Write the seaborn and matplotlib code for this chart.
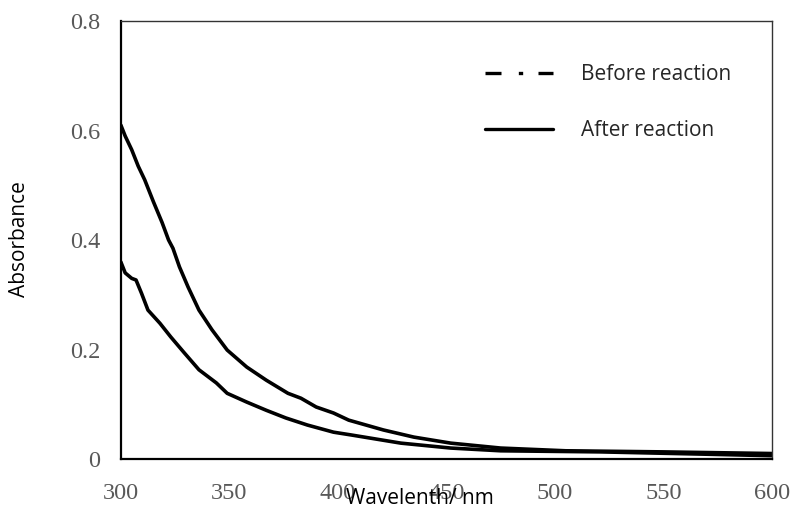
import numpy as np
import pandas as pd
import matplotlib
matplotlib.use("Agg")
import matplotlib.pyplot as plt
from matplotlib.lines import Line2D
import seaborn as sns

# UV-Vis absorption spectra
wl_before = [300, 302, 305, 308, 311, 315, 319, 322, 324, 327, 331, 336, 342, 349,
             358, 367, 377, 383, 390, 398, 405, 421, 435, 452, 475, 505, 550, 600]
abs_before = [0.61, 0.59, 0.565, 0.535, 0.51, 0.47, 0.432, 0.40, 0.385, 0.351, 0.314,
              0.272, 0.236, 0.199, 0.168, 0.144, 0.12, 0.111, 0.095, 0.084, 0.071,
              0.053, 0.04, 0.029, 0.02, 0.015, 0.013, 0.01]

wl_after = [300, 302, 305, 307, 309.5, 312.5, 318, 323, 329, 336, 344, 349, 358, 367,
            376, 386, 398, 406, 429, 452, 475, 521, 567, 600]
abs_after = [0.36, 0.34, 0.33, 0.327, 0.303, 0.272, 0.248, 0.223, 0.195, 0.163, 0.139,
             0.12, 0.104, 0.089, 0.075, 0.062, 0.049, 0.044, 0.029, 0.02, 0.015, 0.013,
             0.009, 0.006]

series_names = ["Before reaction", "After reaction"]
x_ticks = [300, 350, 400, 450, 500, 550, 600]
y_ticks = [0, 0.2, 0.4, 0.6, 0.8]
y_tick_labels = ["0", "0.2", "0.4", "0.6", "0.8"]

df = pd.concat([
    pd.DataFrame({"wl": wl_before, "A": abs_before, "sample": series_names[0]}),
    pd.DataFrame({"wl": wl_after, "A": abs_after, "sample": series_names[1]}),
])

sns.set_style("white")
plt.rcParams["font.family"] = ["Open Sans", "DejaVu Sans"]

fig = plt.figure(figsize=(7.95, 5.14), dpi=100)
ax = fig.add_axes([0.152, 0.107, 0.819, 0.852])

sns.lineplot(data=df, x="wl", y="A", hue="sample", palette=["black", "black"],
             linewidth=2.6, legend=False, ax=ax, sort=True)

ax.set_xlim(300, 600)
ax.set_ylim(0, 0.8)
ax.set_xticks(x_ticks)
ax.set_yticks(y_ticks)
ax.set_yticklabels(y_tick_labels)
ax.tick_params(axis="both", length=0, labelsize=17.5, colors="#595959")
ax.tick_params(axis="x", pad=17)
ax.tick_params(axis="y", pad=15)
for lab in ax.get_xticklabels() + ax.get_yticklabels():
    lab.set_family(["Liberation Serif", "DejaVu Serif"])

for side in ["left", "bottom"]:
    ax.spines[side].set_linewidth(1.6)
    ax.spines[side].set_color("black")
for side in ["top", "right"]:
    ax.spines[side].set_linewidth(1.0)
    ax.spines[side].set_color("#333333")

ax.set_xlabel("")
ax.set_ylabel("")
fig.text(0.528, 0.031, "Wavelenth/ nm", ha="center", va="center", fontsize=15, color="black")
fig.text(0.024, 0.535, "Absorbance", ha="center", va="center", rotation=90, fontsize=15,
         color="black")

handles = [
    Line2D([], [], color="black", linewidth=2.4, linestyle=(0, (4.8, 5.2, 1.3, 4.6))),
    Line2D([], [], color="black", linewidth=2.4, linestyle="-"),
]
ax.legend(handles, series_names, frameon=False, fontsize=15, handlelength=3.3,
          handletextpad=1.3, labelspacing=1.7, loc="upper left",
          bbox_to_anchor=(0.53, 0.945))

fig.savefig("out.png", dpi=100)
